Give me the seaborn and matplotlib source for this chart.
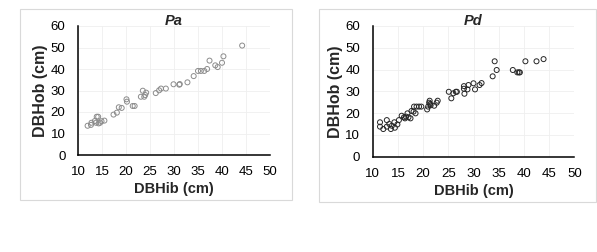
import pandas as pd
import matplotlib.pyplot as plt
import seaborn as sns
from matplotlib.patches import Rectangle

# Pa: DBH inside bark vs outside bark (cm)
pa_dbhib = [12.0, 12.7, 12.8, 13.5, 13.9, 14.2, 13.75, 14.3, 14.6, 14.9, 15.5,
            17.4, 18.1, 18.5, 19.1, 20.1, 20.2, 21.4, 21.8, 23.1, 23.5, 23.8,
            24.0, 24.2, 26.2, 26.9, 27.3, 28.3, 29.9, 31.1, 31.2, 32.8, 34.1,
            35.0, 35.6, 36.3, 36.9, 37.4, 38.6, 39.1, 40.0, 40.3, 44.2]
pa_dbhob = [13.6, 14.0, 15.0, 15.8, 17.8, 17.8, 15.0, 14.7, 15.0, 15.7, 16.0,
            18.8, 19.7, 22.2, 21.9, 25.9, 24.8, 22.8, 22.8, 27.1, 29.9, 27.1,
            27.9, 29.0, 28.8, 30.1, 30.9, 30.9, 32.9, 32.7, 33.0, 33.8, 36.7,
            39.1, 39.1, 39.1, 40.0, 43.9, 41.7, 40.9, 42.9, 45.9, 50.9]

# Pd
pd_dbhib = [11.45, 11.45, 12.1, 12.8, 12.8, 13.3, 13.6, 13.8, 14.3, 14.4, 14.9,
            15.2, 15.75, 16.2, 16.4, 16.6, 16.9, 17.1, 17.5, 17.7, 18.1, 18.2,
            18.5, 18.7, 19.2, 19.65, 20.8, 21.0, 21.2, 21.3, 21.4, 21.5, 22.2,
            22.7, 22.9, 25.1, 25.6, 26.0, 26.5, 26.7, 28.1, 28.1, 28.2, 28.8,
            29.0, 30.0, 30.3, 31.2, 31.6, 33.8, 34.2, 34.6, 37.8, 38.7, 39.0,
            39.2, 40.3, 42.5, 43.9]
pd_dbhob = [15.8, 13.8, 12.7, 16.8, 13.8, 15.0, 12.7, 14.2, 15.8, 13.3, 14.8,
            16.8, 18.8, 18.1, 17.6, 18.4, 19.9, 18.1, 17.6, 21.0, 20.7, 23.0,
            19.9, 23.0, 23.0, 23.0, 21.7, 23.0, 24.8, 25.7, 24.2, 23.6, 23.4,
            24.8, 25.7, 29.8, 26.8, 29.1, 29.8, 29.8, 32.4, 31.2, 28.9, 30.9,
            32.9, 33.7, 30.9, 32.9, 33.8, 36.9, 43.8, 39.8, 39.8, 38.7, 38.7,
            38.7, 43.8, 43.8, 44.8]

panels = [
    ("Pa", pa_dbhib, pa_dbhob, "#8c8c8c", [78, 270, 155, 26], [19.5, 9, 291.5, 199.5]),
    ("Pd", pd_dbhib, pd_dbhob, "#262626", [372.7, 574.3, 156.7, 26], [318.5, 9, 596, 202]),
]

sns.set_theme(style="white")
plt.rcParams['font.family'] = ['Liberation Sans', 'DejaVu Sans']

W, H = 597, 252
fig = plt.figure(figsize=(W / 100, H / 100), dpi=100)

for title, xs, ys, col, (x0, x1, y0, y1), (bx0, by0, bx1, by1) in panels:
    # light gray frame around each chart
    fig.patches.append(Rectangle((bx0 / W, 1 - by1 / H), (bx1 - bx0) / W, (by1 - by0) / H,
                                 transform=fig.transFigure, fill=False,
                                 edgecolor='#d9d9d9', linewidth=0.8))
    ax = fig.add_axes([x0 / W, 1 - y0 / H, (x1 - x0) / W, (y0 - y1) / H])
    df = pd.DataFrame({'DBHib': xs, 'DBHob': ys})
    sns.scatterplot(data=df, x='DBHib', y='DBHob', ax=ax, s=13,
                    facecolors='none', edgecolor=col, linewidth=0.7)
    ax.set_xlim(10, 50)
    ax.set_ylim(0, 60)
    ax.set_xticks(range(10, 51, 5))
    ax.set_yticks(range(0, 61, 10))
    ax.grid(True, color='#efefef', linewidth=0.6)
    ax.set_axisbelow(True)
    for s in ['top', 'right']:
        ax.spines[s].set_visible(False)
    for s in ['left', 'bottom']:
        ax.spines[s].set_color('black')
        ax.spines[s].set_linewidth(1.1)
    ax.tick_params(direction='inout', length=6, width=1.1, color='#404040',
                   labelsize=9.5, labelcolor='black')
    ax.tick_params(axis='y', pad=6)
    ax.tick_params(axis='x', pad=5)
    ax.set_xlabel('DBHib (cm)', fontsize=10.5, fontweight='bold', labelpad=3)
    ax.set_ylabel('DBHob (cm)', fontsize=11.5, fontweight='bold', labelpad=2)
    ax.set_title(title, fontsize=10.5, fontweight='bold', style='italic', pad=1)

fig.savefig('out.png', dpi=100)
